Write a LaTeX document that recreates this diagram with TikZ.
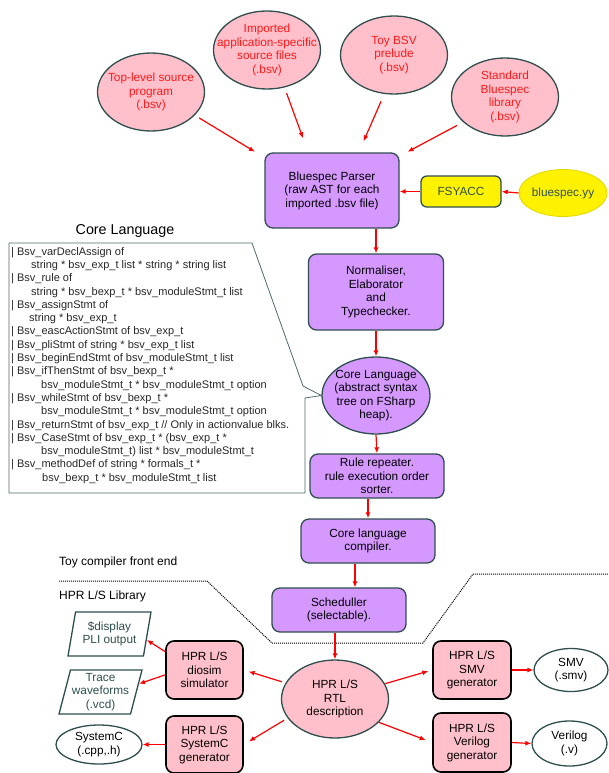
\documentclass[tikz,border=0pt]{standalone}
\usepackage{fontspec}
\setmainfont{Liberation Sans}
\usepackage{xcolor}
\usetikzlibrary{shapes.geometric, arrows.meta, calc}

\definecolor{slate}{RGB}{47,79,79}
\definecolor{pinkfill}{RGB}{255,192,203}
\definecolor{lilac}{RGB}{213,152,255}
\definecolor{srcred}{RGB}{255,25,25}

\begin{document}
\begin{tikzpicture}[
  x=1pt, y=-1pt,
  every node/.style={font=\fontsize{11.8}{13.5}\selectfont, align=center, inner sep=0pt},
  srcfile/.style={ellipse, draw=slate, line width=1.3pt, fill=pinkfill, minimum width=107pt, minimum height=78pt},
  srctext/.style={text=srcred},
  stage/.style={rectangle, rounded corners=8pt, draw=slate, line width=1.3pt, fill=lilac, minimum width=134pt},
  corenode/.style={ellipse, draw=slate, line width=1.3pt, fill=lilac, minimum width=108pt, minimum height=77pt},
  tool/.style={rectangle, rounded corners=6pt, draw=slate, line width=1.3pt, fill=yellow, text=slate, minimum width=80pt, minimum height=31pt},
  grammar/.style={ellipse, draw=yellow!75!olive, line width=0.8pt, fill=yellow, text=slate, minimum width=88pt, minimum height=47pt},
  hpr/.style={rectangle, rounded corners=8pt, draw=black, line width=1.6pt, fill=pinkfill, minimum width=77pt, minimum height=58pt},
  outfile/.style={ellipse, draw=slate, line width=1.3pt, fill=white},
  outdata/.style={trapezium, trapezium left angle=73, trapezium right angle=107, trapezium stretches body,
    draw=slate, line width=1.3pt, fill=white, text=slate, minimum width=83pt, minimum height=44pt},
  flow/.style={draw=red, line width=1.2pt, -{Latex[length=6pt,width=5pt]}},
  callout/.style={draw=slate!85, line width=0.8pt},
  boundary/.style={densely dotted, line width=1pt},
  caption/.style={font=\fontsize{12}{14}\selectfont, anchor=west},
]
  \useasboundingbox (0,0) rectangle (608,773);

  \node[srcfile, label={[srctext]center:{Top-level source\\program\\(.bsv)}}] (toplevel) at (151,92) {};
  \node[srcfile, label={[srctext]center:{Imported\\application-specific\\source files\\(.bsv)}}] (imported) at (267,50) {};
  \node[srcfile, label={[srctext]center:{Toy BSV\\prelude\\(.bsv)}}] (prelude) at (394,55) {};
  \node[srcfile, label={[srctext]center:{Standard\\Bluespec\\library\\(.bsv)}}] (stdlib) at (505,97) {};

  \node[stage, minimum height=75pt] (parser) at (332,190.5) {Bluespec Parser\\(raw AST for each\\imported .bsv file)};
  \node[tool] (fsyacc) at (461,191.5) {FSYACC};
  \node[grammar] (yy) at (563,193) {bluespec.yy};

  \node[stage, minimum width=135pt, minimum height=76pt] (norm) at (376,292) {Normaliser,\\Elaborator\\and\\Typechecker.};
  \node[corenode, label={center:{Core Language\\(abstract syntax\\tree on FSharp\\heap).}}] (core) at (376,395.5) {};
  \node[stage, minimum height=44pt] (repeater) at (377,476) {Rule repeater.\\rule execution order\\sorter.};
  \node[stage, minimum height=44pt] (comp) at (368,541) {Core language\\compiler.};
  \node[stage, minimum height=44pt] (sched) at (339,610) {Scheduller\\(selectable).};

  \node[font=\fontsize{14.3}{16}\selectfont] (coretitle) at (125,231) {Core Language};
  \draw[callout] (9,243) -- (252,243) -- (303,386) -- (core.west) -- (305,398) -- (305,493) -- (9,493) -- cycle;
  \node[anchor=north west, align=left, text=black!85, font=\fontsize{11}{13.3}\selectfont] (coredefs) at (11,247) {%
    | Bsv\_varDeclAssign of\\
    \hspace*{20pt}string * bsv\_exp\_t list * string * string list\\
    | Bsv\_rule of\\
    \hspace*{20pt}string * bsv\_bexp\_t * bsv\_moduleStmt\_t list\\
    | Bsv\_assignStmt of\\
    \hspace*{18pt}string * bsv\_exp\_t\\
    | Bsv\_eascActionStmt of bsv\_exp\_t\\
    | Bsv\_pliStmt of string * bsv\_exp\_t list\\
    | Bsv\_beginEndStmt of bsv\_moduleStmt\_t list\\
    | Bsv\_ifThenStmt of bsv\_bexp\_t *\\
    \hspace*{30pt}bsv\_moduleStmt\_t * bsv\_moduleStmt\_t option\\
    | Bsv\_whileStmt of bsv\_bexp\_t *\\
    \hspace*{30pt}bsv\_moduleStmt\_t * bsv\_moduleStmt\_t option\\
    | Bsv\_returnStmt of bsv\_exp\_t // Only in actionvalue blks.\\
    | Bsv\_CaseStmt of bsv\_exp\_t * (bsv\_exp\_t *\\
    \hspace*{30pt}bsv\_moduleStmt\_t) list * bsv\_moduleStmt\_t\\
    | Bsv\_methodDef of string * formals\_t *\\
    \hspace*{31pt}bsv\_bexp\_t * bsv\_moduleStmt\_t list};

  \node[caption] (frontlbl) at (59,562) {Toy compiler front end};
  \node[caption] (hprlbl) at (59,596) {HPR L/S Library};
  \draw[boundary] (59,581) -- (207,581) -- (272,643) -- (423,643) -- (473,574) -- (608,574);

  \node[srcfile, text=black] (rtl) at (335,699) {HPR L/S\\RTL\\description};
  \node[hpr] (diosim) at (204.5,670) {HPR L/S\\diosim\\simulator};
  \node[hpr, minimum height=57pt] (sysgen) at (204.5,744.5) {HPR L/S\\SystemC\\generator};
  \node[hpr, minimum width=78pt] (smvgen) at (472,670) {HPR L/S\\SMV\\generator};
  \node[hpr, minimum width=78pt, minimum height=59pt] (verigen) at (472,742.5) {HPR L/S\\Verilog\\generator};

  \node[outdata] (display) at (109.5,634) {\$display\\PLI output};
  \node[outdata] (trace) at (100.5,692) {Trace\\waveforms\\(.vcd)};
  \node[outfile, minimum width=86pt, minimum height=39pt] (sysc) at (99,744.5) {SystemC\\(.cpp,.h)};
  \node[outfile, minimum width=74pt, minimum height=43pt] (smv) at (571,670) {SMV\\(.smv)};
  \node[outfile, minimum width=75pt, minimum height=45pt] (verilog) at (569.5,743.5) {Verilog\\(.v)};

  \draw[flow, shorten <=5pt, shorten >=11pt] (toplevel.-28) -- (parser.154);
  \draw[flow, shorten <=6pt, shorten >=15pt] (imported.-65) -- (parser.122);
  \draw[flow, shorten <=8pt, shorten >=12pt] (prelude.-104) -- (parser.55);
  \draw[flow, shorten <=7pt, shorten >=9pt] (stdlib.-149) -- (parser.27);
  \draw[flow] (yy.west) -- (fsyacc.east);
  \draw[flow] (fsyacc.west) -- (fsyacc.west -| parser.east);

  \draw[flow] (parser.south -| norm.north) -- (norm.north);
  \draw[flow] (norm.south) -- (core.north);
  \draw[flow] (core.south) -- (repeater.north);
  \draw[flow] (repeater.south -| comp.north) -- (comp.north);
  \draw[flow] ([xshift=-13pt]comp.south) -- ([xshift=-13pt]comp.south |- sched.north);
  \draw[flow] (sched.south -| rtl.north) -- (rtl.north);

  \draw[flow, shorten <=4pt, shorten >=5pt] (rtl.162) -- (diosim.east);
  \draw[flow, shorten <=4pt, shorten >=6pt] (rtl.202) -- (sysgen.east);
  \draw[flow, shorten >=4pt] (rtl.17) -- (smvgen.west);
  \draw[flow, shorten >=7pt] (rtl.-28) -- (verigen.west);
  \draw[flow] (diosim.155) -- (display.-9);
  \draw[flow] (diosim.187) -- (trace.12);
  \draw[flow] (sysgen.west) -- (sysc.east);
  \draw[flow] (smvgen.east) -- (smv.west);
  \draw[flow] (verigen.east) -- (verilog.west);
\end{tikzpicture}
\end{document}
